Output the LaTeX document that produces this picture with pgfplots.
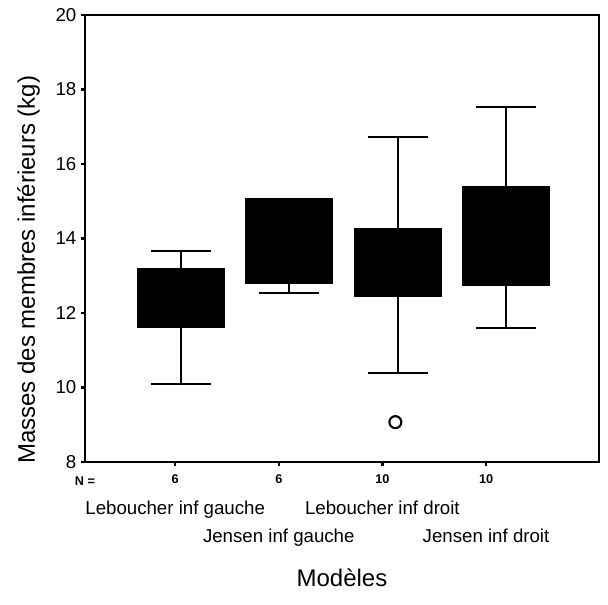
\documentclass[border=0pt]{standalone}
\usepackage{pgfplots}
\pgfplotsset{compat=1.18}
\usepackage{fontspec}
\setmainfont{Liberation Sans}

% box data: position, lower whisker, lower quartile, upper quartile, upper whisker
% Leboucher inf gauche: 1.058, 10.10, 11.62, 13.20, 13.66
% Jensen inf gauche:    2.099, 12.54, 12.80, 15.07, 15.07
% Leboucher inf droit:  3.150, 10.39, 12.46, 14.28, 16.72
% Jensen inf droit:     4.190, 11.60, 12.75, 15.41, 17.53

\begin{document}
\begin{tikzpicture}
\begin{axis}[
    name=ax,
    scale only axis,
    width=385.5pt, height=335.25pt,
    xmin=0.13, xmax=5.09,
    ymin=8, ymax=20,
    ytick={8,10,...,20},
    xtick={1,2,3,4},
    xticklabels={
      {\fontsize{9.5}{9.5}\selectfont\bfseries 6\\[2pt]Leboucher inf gauche},
      {\fontsize{9.5}{9.5}\selectfont\bfseries 6\\[2pt]\strut\\Jensen inf gauche},
      {\fontsize{9.5}{9.5}\selectfont\bfseries 10\\[2pt]Leboucher inf droit},
      {\fontsize{9.5}{9.5}\selectfont\bfseries 10\\[2pt]\strut\\Jensen inf droit}},
    xticklabel style={align=center, anchor=north, yshift=-3pt, font=\fontsize{14}{21}\selectfont},
    extra x ticks={0.13},
    extra x tick labels={\fontsize{9.5}{9.5}\selectfont\bfseries N =},
    extra x tick style={major tick length=0pt, xticklabel style={yshift=-4.5pt}},
    tick align=outside,
    major tick length=3pt,
    tick style={line width=1.8pt, black},
    xtick pos=bottom, ytick pos=left,
    yticklabel style={font=\fontsize{14}{14}\selectfont},
    /pgf/number format/assume math mode=true,
    axis line style={line width=1.6pt},
    ylabel={Masses des membres inférieurs (kg)},
    ylabel style={font=\fontsize{18}{18}\selectfont, at={(axis description cs:-0.11,0.43)}, anchor=center},
    xlabel={Modèles},
    xlabel style={font=\fontsize{18}{18}\selectfont, at={(axis description cs:0.5,-0.26)}, anchor=center},
]
% Leboucher inf gauche
\addplot[black, line width=1.6pt] coordinates {(1.058,10.10)(1.058,13.66)};
\addplot[black, line width=1.6pt] coordinates {(0.768,10.10)(1.348,10.10)};
\addplot[black, line width=1.6pt] coordinates {(0.768,13.66)(1.348,13.66)};
\addplot[black, fill=black] coordinates {(0.638,11.62)(1.478,11.62)(1.478,13.20)(0.638,13.20)} -- cycle;
% Jensen inf gauche
\addplot[black, line width=1.6pt] coordinates {(2.099,12.54)(2.099,15.07)};
\addplot[black, line width=1.6pt] coordinates {(1.809,12.54)(2.389,12.54)};
\addplot[black, line width=1.6pt] coordinates {(1.809,15.07)(2.389,15.07)};
\addplot[black, fill=black] coordinates {(1.679,12.80)(2.519,12.80)(2.519,15.07)(1.679,15.07)} -- cycle;
% Leboucher inf droit
\addplot[black, line width=1.6pt] coordinates {(3.150,10.39)(3.150,16.72)};
\addplot[black, line width=1.6pt] coordinates {(2.860,10.39)(3.440,10.39)};
\addplot[black, line width=1.6pt] coordinates {(2.860,16.72)(3.440,16.72)};
\addplot[black, fill=black] coordinates {(2.730,12.46)(3.570,12.46)(3.570,14.28)(2.730,14.28)} -- cycle;
% Jensen inf droit
\addplot[black, line width=1.6pt] coordinates {(4.190,11.60)(4.190,17.53)};
\addplot[black, line width=1.6pt] coordinates {(3.900,11.60)(4.480,11.60)};
\addplot[black, line width=1.6pt] coordinates {(3.900,17.53)(4.480,17.53)};
\addplot[black, fill=black] coordinates {(3.770,12.75)(4.610,12.75)(4.610,15.41)(3.770,15.41)} -- cycle;
% outlier
\addplot[only marks, mark=o, mark size=4.5pt, line width=1.6pt, black]
  coordinates {(3.125,9.07)};
\end{axis}
\path ([shift={(-63.75pt,-107.25pt)}]ax.south west) rectangle ([shift={(6.75pt,11.25pt)}]ax.north east);
\end{tikzpicture}
\end{document}
